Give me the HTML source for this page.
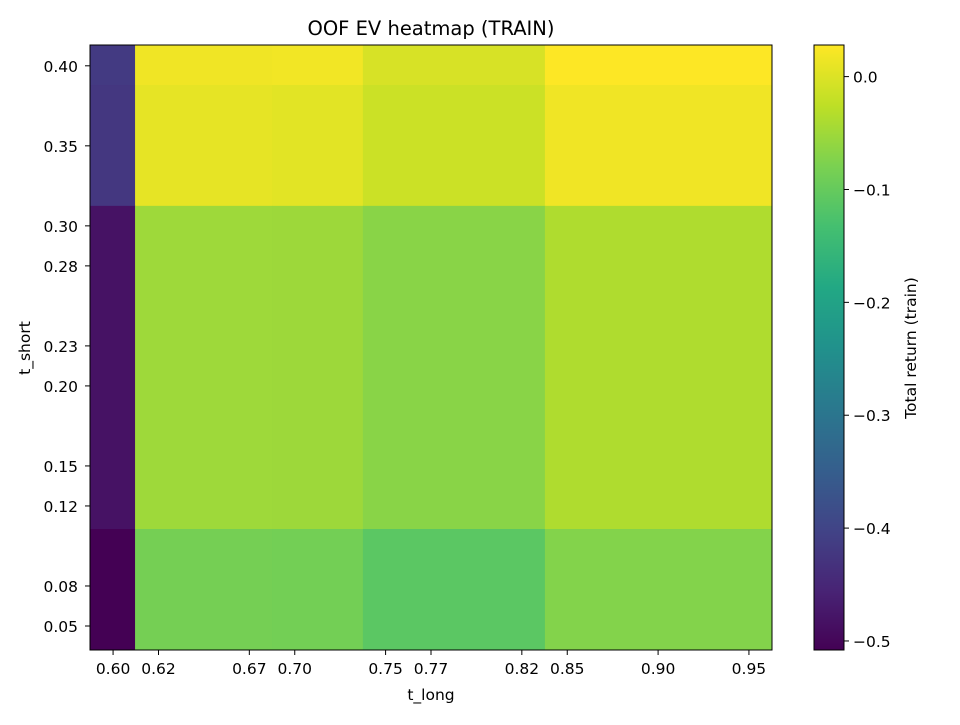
<!DOCTYPE html>
<html><head><meta charset="utf-8"><style>
body{margin:0;background:#fff}
svg text{font-family:"DejaVu Sans","Liberation Sans",sans-serif;fill:#000}
</style></head><body>
<svg id="chart" width="960" height="720" xmlns="http://www.w3.org/2000/svg">
<rect width="960" height="720" fill="#fff"/>
<g id="cells"></g>
<rect x="90" y="45" width="682" height="605" fill="none" stroke="#000" stroke-width="1"/>
<g id="xticks"></g>
<g id="yticks"></g>
<text x="431" y="700" font-size="15.5" text-anchor="middle">t_long</text>
<text x="30" y="348" font-size="15.5" text-anchor="middle" transform="rotate(-90 30 348)">t_short</text>
<text x="431" y="35" font-size="19.5" text-anchor="middle">OOF EV heatmap (TRAIN)</text>
<g id="cbar"></g>
<text x="916" y="348" font-size="15.5" text-anchor="middle" transform="rotate(-90 916 348)">Total return (train)</text>
</svg>
<script>
const xEdges=[0.5873,0.6121,0.6875,0.7128,0.7375,0.8377,0.9627];
const yEdges=[0.413,0.388,0.3125,0.1106,0.035];
const values=[
[-0.417,0.017,0.019,0.019,-0.004,0.028],
[-0.422,0.009,0.005,0.005,-0.014,0.017],
[-0.482,-0.050,-0.051,-0.051,-0.067,-0.037],
[-0.508,-0.084,-0.086,-0.086,-0.110,-0.072]];
const xTickVals=[0.60,0.625,0.675,0.70,0.75,0.775,0.825,0.85,0.90,0.95];
const xTickLabels=["0.60","0.62","0.67","0.70","0.75","0.77","0.82","0.85","0.90","0.95"];
const yTickVals=[0.40,0.35,0.30,0.275,0.225,0.20,0.15,0.125,0.075,0.05];
const yTickLabels=["0.40","0.35","0.30","0.28","0.23","0.20","0.15","0.12","0.08","0.05"];
const cbTickVals=[0,-0.1,-0.2,-0.3,-0.4,-0.5];
const cbTickLabels=["0.0","\u22120.1","\u22120.2","\u22120.3","\u22120.4","\u22120.5"];

const NS="http://www.w3.org/2000/svg";
const X0=90,X1=772,Y0=45,Y1=650;
const xmin=0.5873,xmax=0.9627,ymin=0.035,ymax=0.413;
const sx=v=>X0+(v-xmin)/(xmax-xmin)*(X1-X0);
const sy=v=>Y1-(v-ymin)/(ymax-ymin)*(Y1-Y0);
const all=values.flat();const vmin=Math.min(...all),vmax=Math.max(...all);
const vir=["#440154","#482475","#414487","#355f8d","#2a788e","#21918c","#22a884","#44bf70","#7ad151","#bddf26","#fde725"];
function hex(h){return [1,3,5].map(i=>parseInt(h.substr(i,2),16));}
function cmap(t){t=Math.max(0,Math.min(1,t));const p=t*10,i=Math.min(9,Math.floor(p)),f=p-i;
const a=hex(vir[i]),b=hex(vir[i+1]);return "rgb("+a.map((c,k)=>Math.round(c+(b[k]-c)*f)).join(",")+")";}
function mk(tag,attrs,parent){const e=document.createElementNS(NS,tag);for(const k in attrs)e.setAttribute(k,attrs[k]);parent.appendChild(e);return e;}
const cells=document.getElementById('cells');
for(let r=0;r<values.length;r++)for(let c=0;c<values[r].length;c++){
const x=sx(xEdges[c]),x2=sx(xEdges[c+1]),y=sy(yEdges[r]),y2=sy(yEdges[r+1]);
const e=mk('rect',{x:x,y:y,width:x2-x+0.5,height:y2-y+0.5,fill:cmap((values[r][c]-vmin)/(vmax-vmin))},cells);

}
const xt=document.getElementById('xticks');
xTickVals.forEach((v,i)=>{const x=sx(v);
const l=mk('line',{x1:x,x2:x,y1:650,y2:655,stroke:'#000'},xt);


const t=mk('text',{x:x,y:674,'font-size':15.5,'text-anchor':'middle'},xt);t.textContent=xTickLabels[i];

});
const yt=document.getElementById('yticks');
yTickVals.forEach((v,i)=>{const y=sy(v);
const l=mk('line',{x1:85,x2:90,y1:y,y2:y,stroke:'#000'},yt);


const t=mk('text',{x:78,y:y+6,'font-size':15.5,'text-anchor':'end'},yt);t.textContent=yTickLabels[i];

});
const cb=document.getElementById('cbar');
const CX=814,CW=30;
const cy=v=>Y1-(v-vmin)/(vmax-vmin)*(Y1-Y0);
for(let p=0;p<605;p++){const e=mk('rect',{x:CX,y:Y0+p,width:CW,height:1.5,fill:cmap(1-p/605)},cb);

}
const fr=mk('rect',{x:CX,y:Y0,width:CW,height:605,fill:'none',stroke:'#000'},cb);


cbTickVals.forEach((v,i)=>{const y=cy(v);
const l=mk('line',{x1:CX+CW,x2:CX+CW+5,y1:y,y2:y,stroke:'#000'},cb);


const t=mk('text',{x:CX+CW+9,y:y+6,'font-size':15.5},cb);t.textContent=cbTickLabels[i];

});
</script>
</body></html>
